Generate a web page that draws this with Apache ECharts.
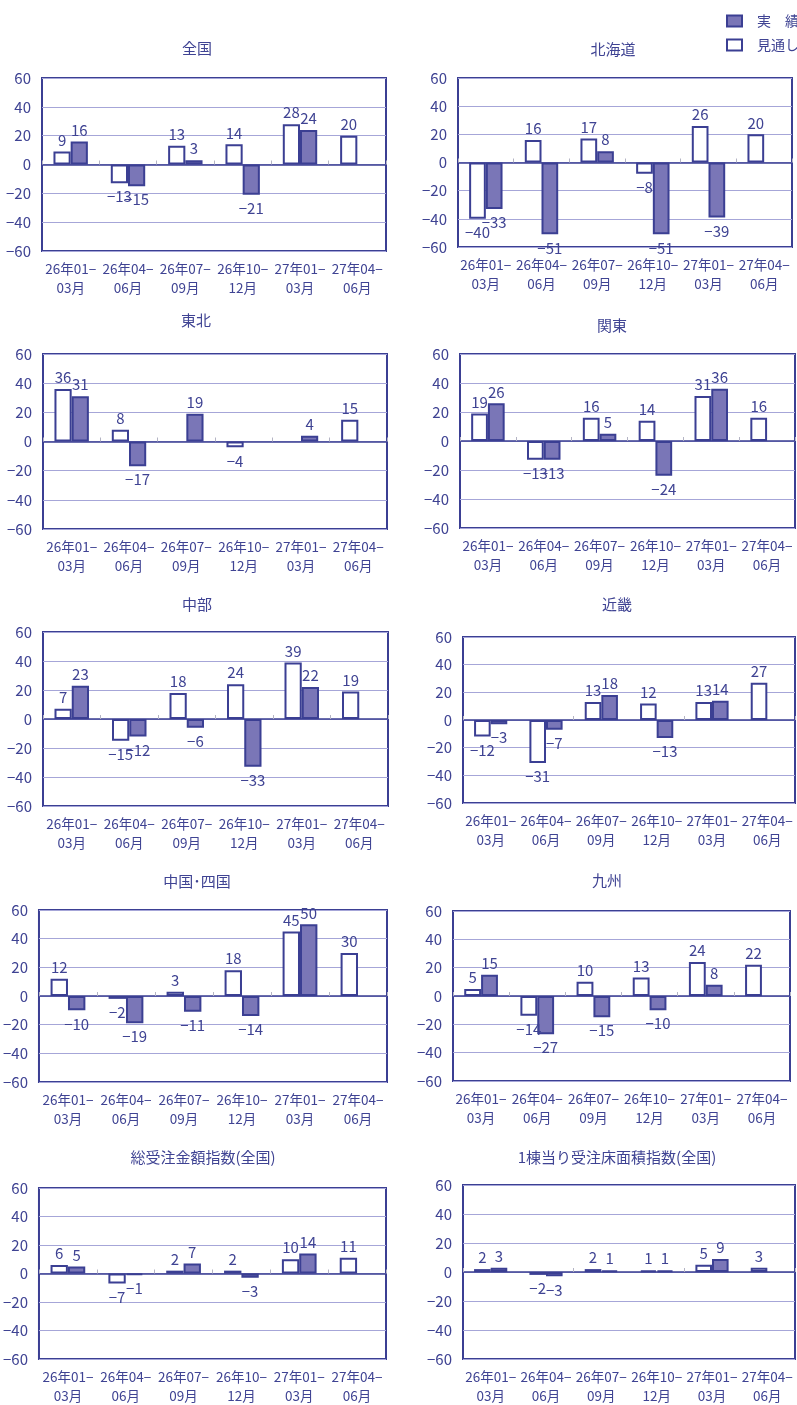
<!DOCTYPE html>
<html lang="ja">
<head>
<meta charset="utf-8">
<title>受注動向指数</title>
<script src="https://cdn.jsdelivr.net/npm/echarts@6/dist/echarts.min.js"></script>
<style>
  html, body { margin: 0; padding: 0; background: #ffffff; }
  #chart { width: 797px; height: 1405px; }
</style>
</head>
<body>
<div id="chart"></div>
<script>
// Quarter categories shared by every panel
const categories = ['26年01-\n03月', '26年04-\n06月', '26年07-\n09月', '26年10-\n12月', '27年01-\n03月', '27年04-\n06月'];
const yTicks = { min: -60, max: 60, interval: 20 };

// Panel titles
const titles = ['全国', '北海道', '東北', '関東', '中部', '近畿', '中国･四国', '九州', '総受注金額指数(全国)', '1棟当り受注床面積指数(全国)'];

// 見通し (outlook) and 実績 (actual) per region
const zenkokuOutlook   = [9, -13, 13, 14, 28, 20];
const zenkokuActual    = [16, -15, 3, -21, 24, null];
const hokkaidoOutlook  = [-40, 16, 17, -8, 26, 20];
const hokkaidoActual   = [-33, -51, 8, -51, -39, null];
const tohokuOutlook    = [36, 8, null, -4, null, 15];
const tohokuActual     = [31, -17, 19, null, 4, null];
const kantoOutlook     = [19, -13, 16, 14, 31, 16];
const kantoActual      = [26, -13, 5, -24, 36, null];
const chubuOutlook     = [7, -15, 18, 24, 39, 19];
const chubuActual      = [23, -12, -6, -33, 22, null];
const kinkiOutlook     = [-12, -31, 13, 12, 13, 27];
const kinkiActual      = [-3, -7, 18, -13, 14, null];
const chushikokuOutlook = [12, -2, 3, 18, 45, 30];
const chushikokuActual  = [-10, -19, -11, -14, 50, null];
const kyushuOutlook    = [5, -14, 10, 13, 24, 22];
const kyushuActual     = [15, -27, -15, -10, 8, null];
const amountOutlook    = [6, -7, 2, 2, 10, 11];
const amountActual     = [5, -1, 7, -3, 14, null];
const floorOutlook     = [2, -2, 2, 1, 5, 3];
const floorActual      = [3, -3, 1, 1, 9, null];

const outlookSets = [zenkokuOutlook, hokkaidoOutlook, tohokuOutlook, kantoOutlook, chubuOutlook,
                     kinkiOutlook, chushikokuOutlook, kyushuOutlook, amountOutlook, floorOutlook];
const actualSets  = [zenkokuActual, hokkaidoActual, tohokuActual, kantoActual, chubuActual,
                     kinkiActual, chushikokuActual, kyushuActual, amountActual, floorActual];

// Plot boxes [left, top, right, bottom] and title centres [x, y]
const boxes = [
  [42, 78, 386, 251], [458, 78, 792, 247],
  [43, 354, 387, 529], [460, 354, 795, 528],
  [43, 632, 388, 806], [463, 637, 795, 803],
  [38, 910, 387, 1082], [453, 911, 790, 1081],
  [38, 1188, 386, 1359], [463, 1185, 795, 1359]
];
const titlePos = [
  [197, 48], [613, 49], [196, 320], [612, 325], [197, 604],
  [617, 604], [197, 881], [607, 880], [203, 1157], [617, 1157]
];

const FONT = "'Noto Sans CJK JP', 'Noto Sans', sans-serif";
const TEXT = '#3f4393';
const DARK = '#3b3f93';
const FILL = '#7a76b7';
const GRIDLINE = '#a6a6d8';

const minus = v => (v < 0 ? '\u2212' + Math.abs(v) : String(v));

function toItems(arr) {
  return arr.map(v => v === null ? null : {
    value: v,
    label: { position: v < 0 ? 'bottom' : 'top', distance: v < 0 ? 6 : 4 }
  });
}

const grid = [], xAxis = [], yAxis = [], series = [], graphic = [];

boxes.forEach((b, i) => {
  grid.push({
    left: b[0], top: b[1], width: b[2] - b[0], height: b[3] - b[1],
    show: true, borderColor: DARK, borderWidth: 2, backgroundColor: 'transparent'
  });
  // label axis along the bottom of the box
  xAxis.push({
    type: 'category', gridIndex: i, data: categories, position: 'bottom',
    axisLine: { show: false, onZero: false }, axisTick: { show: false },
    axisLabel: {
      color: TEXT, fontFamily: FONT, fontSize: 13.5, lineHeight: 19, margin: 8,
      interval: 0, formatter: s => s.replace('-', '\u2212')
    }
  });
  // zero line with short inner ticks between quarters
  xAxis.push({
    type: 'category', gridIndex: i, data: categories, position: 'bottom',
    axisLine: { show: true, onZero: true, lineStyle: { color: DARK, width: 1.5 } },
    axisTick: { show: true, inside: true, length: 4, lineStyle: { color: '#b4b4c4', width: 1 } },
    axisLabel: { show: false }, splitLine: { show: false }, z: 5
  });
  yAxis.push({
    type: 'value', gridIndex: i, min: yTicks.min, max: yTicks.max, interval: yTicks.interval,
    axisLine: { show: false }, axisTick: { show: false },
    axisLabel: { color: TEXT, fontFamily: FONT, fontSize: 15, margin: 11, formatter: minus },
    splitLine: { show: true, lineStyle: { color: GRIDLINE, width: 1 } }
  });
  const labelBase = { show: true, color: TEXT, fontFamily: FONT, fontSize: 15, formatter: p => minus(p.value) };
  series.push({
    name: '見通し', type: 'bar', xAxisIndex: i * 2, yAxisIndex: i,
    data: toItems(outlookSets[i]), barWidth: '30%', barGap: '0%',
    itemStyle: { color: '#ffffff', borderColor: DARK, borderWidth: 2 },
    label: labelBase, emphasis: { disabled: true }
  });
  series.push({
    name: '実績', type: 'bar', xAxisIndex: i * 2, yAxisIndex: i,
    data: toItems(actualSets[i]), barWidth: '30%', barGap: '0%',
    itemStyle: { color: FILL, borderColor: DARK, borderWidth: 2 },
    label: labelBase, emphasis: { disabled: true }
  });
  graphic.push({
    type: 'text', x: titlePos[i][0], y: titlePos[i][1],
    style: { text: titles[i], fill: TEXT, font: '15px ' + FONT, textAlign: 'center', textVerticalAlign: 'middle' }
  });
});

const chart = echarts.init(document.getElementById('chart'), null, { renderer: 'canvas', width: 797, height: 1405 });
chart.setOption({
  animation: false,
  backgroundColor: '#ffffff',
  textStyle: { fontFamily: FONT },
  legend: {
    data: [{ name: '実績', icon: 'rect' }, { name: '見通し', icon: 'rect' }],
    orient: 'vertical', left: 721, top: 9,
    itemWidth: 15, itemHeight: 11, itemGap: 10, selectedMode: false,
    textStyle: { color: TEXT, fontFamily: FONT, fontSize: 14, padding: [0, 0, 0, 10] },
    formatter: n => (n === '実績' ? '実\u3000績' : n)
  },
  grid, xAxis, yAxis, series, graphic
});
</script>
</body>
</html>
